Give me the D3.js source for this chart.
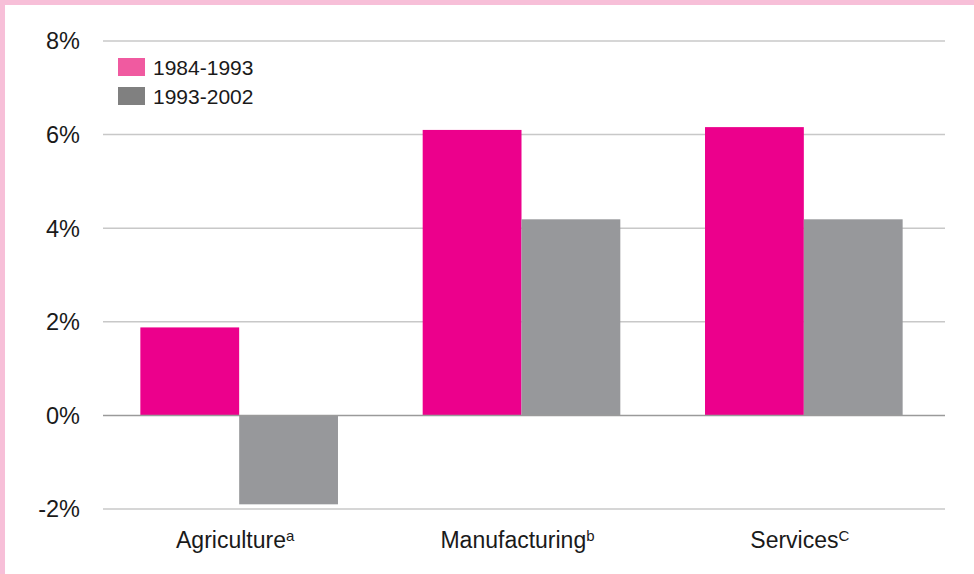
<!DOCTYPE html>
<html><head><meta charset="utf-8">
<script src="https://cdn.jsdelivr.net/npm/d3@7"></script>
<style>body{margin:0;background:#fff}svg{display:block}text{font-family:"Liberation Sans",Arial,sans-serif;fill:#1a1a1a}</style>
</head><body><svg id="c" width="974" height="574"></svg>
<script>
const categories = ["Agriculture", "Manufacturing", "Services"];
const superscripts = ["a", "b", "C"];
const seriesNames = ["1984-1993", "1993-2002"];
const values1984 = [1.88, 6.1, 6.16];
const values1993 = [-1.9, 4.19, 4.19];
const yTicks = [-2, 0, 2, 4, 6, 8];

const svg = d3.select("#c");
const W = 974, H = 574;
svg.append("rect").attr("width", W).attr("height", H).attr("fill", "#fff");
svg.append("rect").attr("x", 0).attr("y", 0).attr("width", W).attr("height", 5).attr("fill", "#f7bfd8");
svg.append("rect").attr("x", 0).attr("y", 0).attr("width", 5).attr("height", H).attr("fill", "#f7bfd8");

const y = d3.scaleLinear().domain([-2, 8]).range([509, 41]);
const x = d3.scaleBand().domain(categories).range([98, 945]).paddingInner(0).paddingOuter(0);
const barFrac = 0.70;
const xs = d3.scaleBand().domain(seriesNames).range([0, x.bandwidth() * barFrac]);
const off = x.bandwidth() * (1 - barFrac) / 2;
const gridX0 = 103, gridX1 = 945;

// grid
svg.append("g").selectAll("line").data(yTicks.filter(d => d !== 0)).join("line")
  .attr("x1", gridX0).attr("x2", gridX1)
  .attr("y1", d => y(d)).attr("y2", d => y(d))
  .attr("stroke", "#c8c8c8").attr("stroke-width", 1.5);

// y labels
svg.append("g").selectAll("text").data(yTicks).join("text")
  .attr("x", 80).attr("y", d => y(d)).attr("dy", "0.36em")
  .attr("text-anchor", "end").attr("font-size", 23.5)
  .text(d => d + "%");

const colors = ["#ec008c", "#97989b"];
const data = [values1984, values1993];
data.forEach((vals, si) => {
  svg.append("g").selectAll("rect").data(vals).join("rect")
    .attr("x", (d, i) => x(categories[i]) + off + xs(seriesNames[si]))
    .attr("width", xs.bandwidth())
    .attr("y", d => y(Math.max(0, d)))
    .attr("height", d => Math.abs(y(d) - y(0)))
    .attr("fill", colors[si]);
});

// zero line
svg.append("line").attr("x1", gridX0).attr("x2", gridX1)
  .attr("y1", y(0)).attr("y2", y(0)).attr("stroke", "#9a9a9a").attr("stroke-width", 1.5);

// category labels
const cl = svg.append("g").selectAll("text").data(categories).join("text")
  .attr("x", d => x(d) + x.bandwidth() / 2 - 4).attr("y", 548)
  .attr("text-anchor", "middle").attr("font-size", 23);
cl.append("tspan").text(d => d);
cl.append("tspan").attr("font-size", 15).attr("dy", -7).text((d, i) => superscripts[i]);

// legend
const legColors = ["#f05aa0", "#808080"];
const leg = svg.append("g").selectAll("g").data(seriesNames).join("g")
  .attr("transform", (d, i) => `translate(118,${58 + i * 29})`);
leg.append("rect").attr("width", 27).attr("height", 18).attr("fill", (d, i) => legColors[i]);
leg.append("text").attr("x", 35).attr("y", 9).attr("dy", "0.36em").attr("font-size", 21).text(d => d);
</script></body></html>
